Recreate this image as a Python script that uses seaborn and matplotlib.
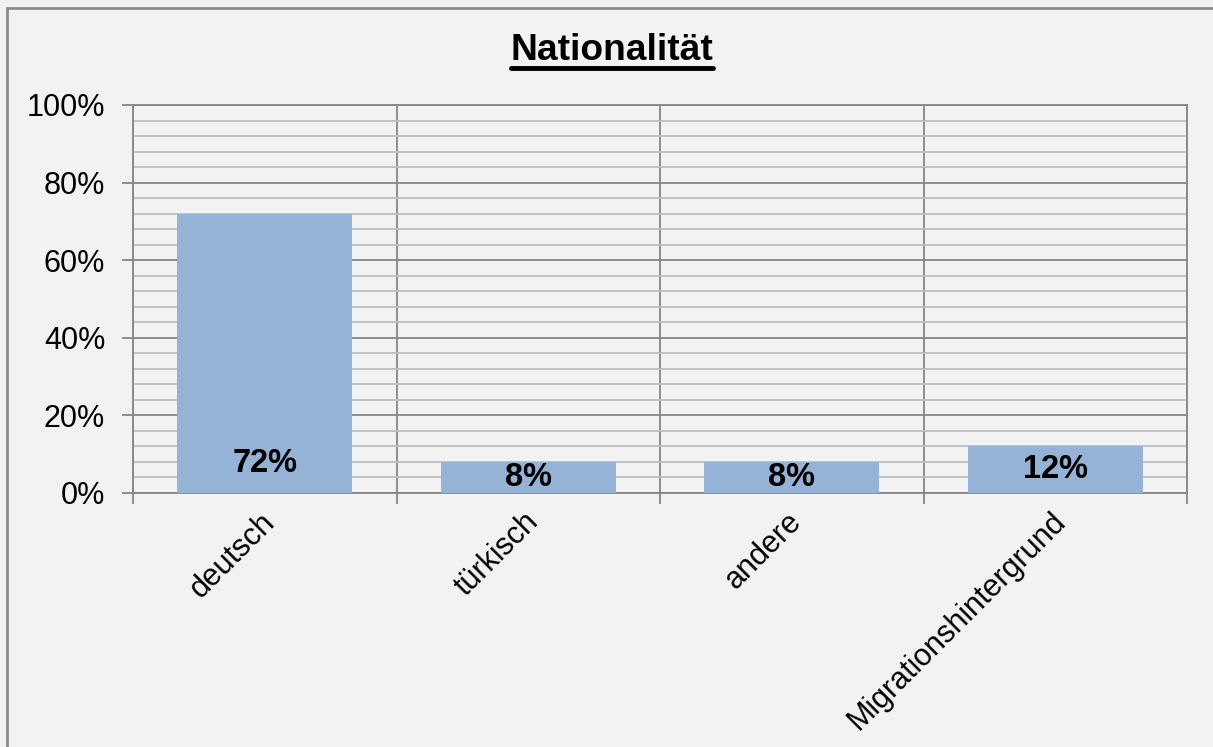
import matplotlib
matplotlib.use("Agg")
import matplotlib.pyplot as plt
from matplotlib.ticker import MultipleLocator, FixedLocator, FuncFormatter
from matplotlib.lines import Line2D
from matplotlib.patches import Rectangle
from matplotlib.transforms import ScaledTranslation
import seaborn as sns
import pandas as pd

categories = ["deutsch", "türkisch", "andere", "Migrationshintergrund"]
values = [72, 8, 8, 12]
title = "Nationalität"

sns.set_theme(style="white")
plt.rcParams["font.family"] = ["Liberation Sans", "DejaVu Sans"]

BG = "#F2F2F2"
BAR = "#95B3D7"
MAJOR = "#868686"
MINOR = "#BFBFBF"

fig = plt.figure(figsize=(12.13, 7.47), dpi=100, facecolor=BG)
ax = fig.add_axes([133 / 1213, 1 - 493 / 747, (1187 - 133) / 1213, (493 - 105) / 747])
ax.set_facecolor(BG)

df = pd.DataFrame({"cat": categories, "val": values})
sns.barplot(data=df, x="cat", y="val", color=BAR, saturation=1, width=0.665, ax=ax,
            zorder=3, linewidth=0, edgecolor=BAR)

ax.set_ylim(0, 100)
ax.set_xlim(-0.5, len(categories) - 0.5)
ax.yaxis.set_major_locator(MultipleLocator(20))
ax.yaxis.set_minor_locator(MultipleLocator(4))
ax.yaxis.set_major_formatter(FuncFormatter(lambda v, p: f"{int(v)}%"))
ax.xaxis.set_minor_locator(FixedLocator([i - 0.5 for i in range(len(categories) + 1)]))

ax.grid(which="major", axis="y", color=MAJOR, linewidth=1.3, zorder=0)
ax.grid(which="minor", axis="y", color=MINOR, linewidth=1.3, zorder=0)
ax.grid(which="minor", axis="x", color=MAJOR, linewidth=1.3, zorder=0)
ax.grid(which="major", axis="x", visible=False)
ax.set_axisbelow(True)

for s in ax.spines.values():
    s.set_color(MAJOR)
    s.set_linewidth(1.3)
    s.set_visible(True)

ax.tick_params(axis="y", which="major", length=8, width=1.3, color=MAJOR, labelsize=22,
               labelcolor="black", pad=12, left=True)
ax.tick_params(axis="y", which="minor", length=0)
ax.tick_params(axis="x", which="major", length=0, labelsize=22, labelcolor="black", pad=10)
ax.tick_params(axis="x", which="minor", length=8, width=1.3, color=MAJOR, bottom=True)

ax.set_xlabel("")
ax.set_ylabel("")
offset = ScaledTranslation(-5 / 100, 0, fig.dpi_scale_trans)
for lbl in ax.get_xticklabels():
    lbl.set_rotation(45)
    lbl.set_ha("right")
    lbl.set_va("top")
    lbl.set_rotation_mode("anchor")
    lbl.set_transform(lbl.get_transform() + offset)

for i, v in enumerate(values):
    ax.text(i, min(v / 2, 7.6), f"{v}%", ha="center", va="center",
            fontsize=23.5, fontweight="bold", color="black", zorder=5)

t = fig.text(612 / 1213, 1 - 60 / 747, title, ha="center", va="baseline",
             fontsize=26.7, fontweight="bold", color="black")

# outer chart border (left & top visible)
fig.patches.append(Rectangle((6.5 / 1213, -0.1), 1.2, 1 - 7.5 / 747 + 0.1, transform=fig.transFigure,
                             fill=False, edgecolor="#8C8C8C", linewidth=2))

fig.canvas.draw()
bb = t.get_window_extent(renderer=fig.canvas.get_renderer())
x0, x1 = bb.x0 / fig.bbox.width, bb.x1 / fig.bbox.width
uy = 1 - 68 / 747
fig.add_artist(Line2D([x0, x1], [uy, uy], transform=fig.transFigure, color="black", linewidth=3.5))

fig.savefig("out.png", dpi=100, facecolor=BG)
